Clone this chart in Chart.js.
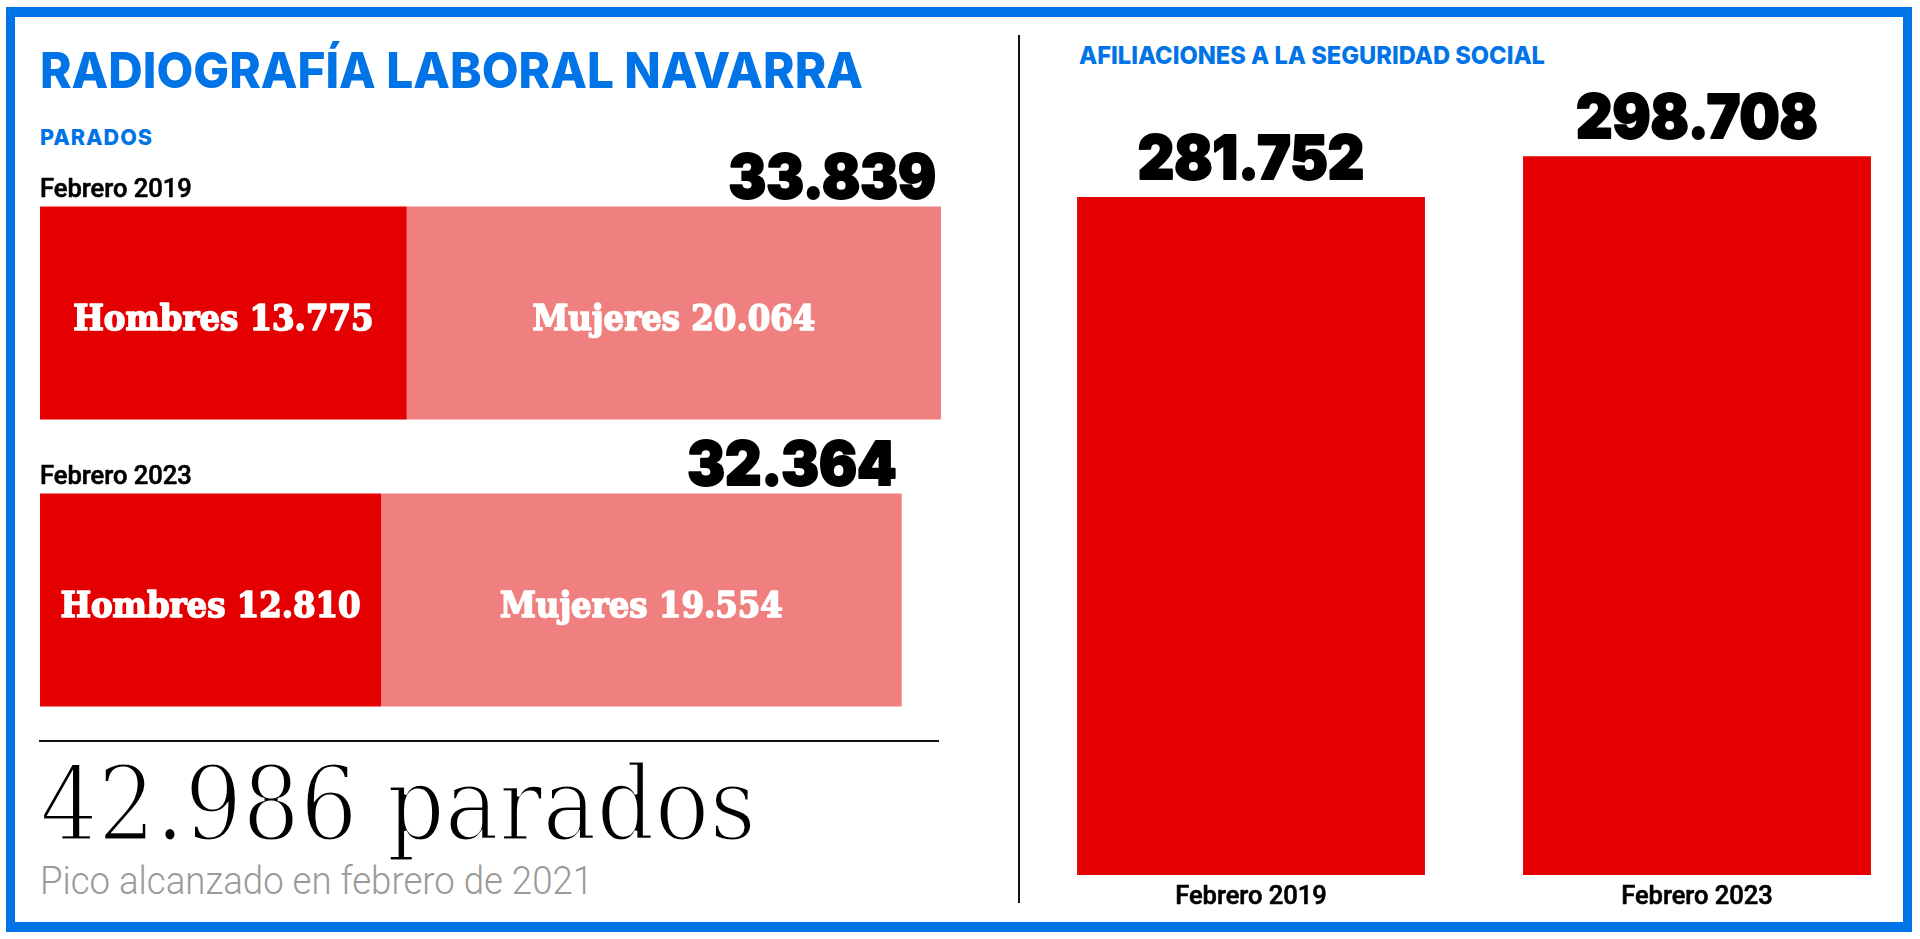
<!DOCTYPE html>
<html><head><meta charset="utf-8">
<script src="https://cdn.jsdelivr.net/npm/chart.js@4.4.0/dist/chart.umd.min.js"></script>
<style>
html,body{margin:0;padding:0;background:#fff;width:1920px;height:939px;overflow:hidden;}
#frame{position:absolute;left:6px;top:7px;width:1906px;height:925px;box-sizing:border-box;border:solid #0074E6;border-width:10px 9px 10px 9px;}
.t{position:absolute;white-space:nowrap;line-height:1;transform-origin:0 0;}
#divider{position:absolute;left:1018px;top:35px;width:2px;height:868px;background:#111;}
#sep{position:absolute;left:39px;top:740px;width:900px;height:2px;background:#111;}
canvas{position:absolute;top:0;}
</style></head>
<body>
<div id="frame"></div>
<div id="divider"></div>
<div id="sep"></div>
<div class="t" data-w="823" style="left:40px;top:40px;font:800 50px Inter,sans-serif;color:#0074E6;">RADIOGRAFÍA LABORAL NAVARRA</div>
<div class="t" data-w="113" style="left:40px;top:124px;font:800 22px Inter,sans-serif;color:#0074E6;letter-spacing:1px;">PARADOS</div>
<div class="t" data-w="466" style="left:1079px;top:40px;font:800 25px Inter,sans-serif;color:#0074E6;">AFILIACIONES A LA SEGURIDAD SOCIAL</div>
<div class="t" data-w="716" style="left:40px;top:744px;font:400 103px 'DejaVu Serif',serif;color:#000;-webkit-text-stroke:3px #fff;">42.986 parados</div>
<div class="t" data-w="553" style="left:40px;top:859px;font:300 38px Roboto,sans-serif;color:#9a9a9a;">Pico alcanzado en febrero de 2021</div>
<canvas id="left" width="1019" height="939" style="left:0;"></canvas>
<canvas id="right" width="901" height="939" style="left:1019px;"></canvas>
<script>
// ---- data ----
const paradosCategories = ['Febrero 2019', 'Febrero 2023'];
const hombres = [13775, 12810];
const mujeres = [20064, 19554];
const afiliacionesCategories = ['Febrero 2019', 'Febrero 2023'];
const afiliaciones = [281752, 298708];

const RED = '#E40000', PINK = '#F08080';
function fmt(n){ return String(n).replace(/\B(?=(\d{3})+(?!\d))/g, '.'); }
function drawScaled(ctx, text, x, y, sx, align, stroke){
  ctx.save(); ctx.translate(x, y); ctx.scale(sx, 1);
  ctx.textAlign = align; ctx.textBaseline = 'alphabetic';
  ctx.fillText(text, 0, 0);
  if (stroke) { ctx.lineWidth = stroke; ctx.lineJoin = 'round'; ctx.strokeStyle = ctx.fillStyle; ctx.strokeText(text, 0, 0); }
  ctx.restore();
}
const CAT_FONT = '500 25px Roboto, sans-serif', CAT_SX = 1.02;
const TOT_FONT = '900 60px Inter, sans-serif', TOT_SX = 0.94;
const SEG_FONT = 'bold 36px "DejaVu Serif Condensed", "DejaVu Serif", serif', SEG_SX = 1.0;

const leftLabels = {
  id: 'leftLabels',
  afterDatasetsDraw(chart){
    const ctx = chart.ctx;
    const mh = chart.getDatasetMeta(0), mm = chart.getDatasetMeta(1);
    paradosCategories.forEach((cat, i) => {
      const h = mh.data[i], m = mm.data[i];
      const top = h.y - h.height / 2;
      ctx.fillStyle = '#000';
      ctx.font = CAT_FONT;
      drawScaled(ctx, cat, chart.chartArea.left, top - 10, CAT_SX, 'left', 0.6);
      ctx.font = TOT_FONT;
      drawScaled(ctx, fmt(hombres[i] + mujeres[i]), m.x - 5, top - 9, TOT_SX, 'right', 2);
      ctx.fillStyle = '#fff';
      ctx.font = SEG_FONT;
      drawScaled(ctx, 'Hombres ' + fmt(hombres[i]), (h.base + h.x) / 2, h.y + 17, SEG_SX, 'center', 1.6);
      drawScaled(ctx, 'Mujeres ' + fmt(mujeres[i]), (m.base + m.x) / 2, m.y + 17, SEG_SX, 'center', 1.6);
    });
  }
};

new Chart(document.getElementById('left'), {
  type: 'bar',
  data: {
    labels: paradosCategories,
    datasets: [
      { label: 'Hombres', data: hombres, backgroundColor: RED, borderWidth: 0, barPercentage: 0.742, categoryPercentage: 1 },
      { label: 'Mujeres', data: mujeres, backgroundColor: PINK, borderWidth: 0, barPercentage: 0.742, categoryPercentage: 1 }
    ]
  },
  options: {
    indexAxis: 'y', responsive: false, animation: false, devicePixelRatio: 1,
    layout: { padding: { left: 40, top: 169.5, right: 20.5, bottom: 195.5 } },
    scales: {
      x: { display: false, stacked: true, min: 0, max: 36000 },
      y: { display: false, stacked: true }
    },
    plugins: { legend: { display: false }, tooltip: { enabled: false } }
  },
  plugins: [leftLabels]
});

const rightLabels = {
  id: 'rightLabels',
  afterDatasetsDraw(chart){
    const ctx = chart.ctx;
    const meta = chart.getDatasetMeta(0);
    afiliacionesCategories.forEach((cat, i) => {
      const b = meta.data[i];
      ctx.fillStyle = '#000';
      ctx.font = TOT_FONT;
      drawScaled(ctx, fmt(afiliaciones[i]), b.x, b.y - 18, TOT_SX, 'center', 2);
      ctx.font = CAT_FONT;
      drawScaled(ctx, cat, b.x, chart.chartArea.bottom + 29, CAT_SX, 'center', 0.6);
    });
  }
};

new Chart(document.getElementById('right'), {
  type: 'bar',
  data: {
    labels: afiliacionesCategories,
    datasets: [{ label: 'Afiliaciones', data: afiliaciones, backgroundColor: RED, borderWidth: 0, barPercentage: 0.78, categoryPercentage: 1 }]
  },
  options: {
    responsive: false, animation: false, devicePixelRatio: 1,
    layout: { padding: { left: 9, top: 104.9, right: 0, bottom: 64 } },
    scales: {
      x: { display: false },
      y: { display: false, min: 0, max: 320000 }
    },
    plugins: { legend: { display: false }, tooltip: { enabled: false } }
  },
  plugins: [rightLabels]
});

function fit(){
  document.querySelectorAll('.t[data-w]').forEach(el => {
    el.style.transform = 'none';
    const w = el.getBoundingClientRect().width;
    el.style.transform = 'scaleX(' + (parseFloat(el.dataset.w) / w) + ')';
  });
}
fit();
if (document.fonts && document.fonts.ready) document.fonts.ready.then(fit);
</script>
</body></html>
